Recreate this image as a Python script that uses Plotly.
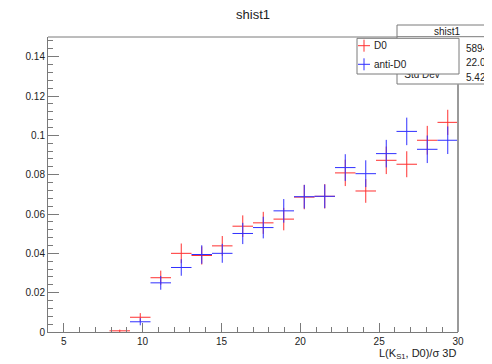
import plotly.graph_objects as go

# ---- data ----
bin_centers = [8.55, 9.85, 11.15, 12.45, 13.75, 15.05, 16.35, 17.65, 18.95, 20.25,
               21.55, 22.85, 24.15, 25.45, 26.75, 28.05, 29.35]
half_bin_width = 0.65

d0_values = [0.0006, 0.0075, 0.0276, 0.0400, 0.0389, 0.0438, 0.0538, 0.0555, 0.0574, 0.0686,
             0.0690, 0.0809, 0.0717, 0.0873, 0.0853, 0.0975, 0.1066]
d0_errors = [0.0006, 0.0021, 0.0036, 0.0050, 0.0046, 0.0050, 0.0055, 0.0056, 0.0057, 0.0062,
             0.0062, 0.0067, 0.0060, 0.0070, 0.0066, 0.0073, 0.0064]

anti_values = [None, 0.0052, 0.0250, 0.0328, 0.0394, 0.0400, 0.0501, 0.0531, 0.0616, 0.0688,
               0.0690, 0.0836, 0.0805, 0.0907, 0.1020, 0.0929, 0.0975]
anti_errors = [0.0, 0.0018, 0.0035, 0.0042, 0.0047, 0.0048, 0.0054, 0.0055, 0.0060, 0.0060,
               0.0060, 0.0068, 0.0068, 0.0070, 0.0070, 0.0070, 0.0070]

x_tick_vals = [5, 10, 15, 20, 25, 30]
y_tick_vals = [0, 0.02, 0.04, 0.06, 0.08, 0.1, 0.12, 0.14]
y_tick_text = ["0", "0.02", "0.04", "0.06", "0.08", "0.1", "0.12", "0.14"]

stats_title = "shist1"
stats_labels = ["Entries", "Mean", "Std Dev"]
stats_values = ["58941", "22.02", "5.424"]

FONT = "Liberation Sans, Arial, sans-serif"
TXT = "#222222"
AX = "#7a7a7a"

# the page body has an 8px margin, so the figure is laid out 8px up/left
OFF = 8


def hist_trace(vals, errs, color, name):
    return go.Scatter(
        x=bin_centers, y=vals, mode="markers", name=name,
        marker=dict(size=1, color=color, opacity=0),
        error_y=dict(type="data", array=errs, visible=True, color=color, thickness=1, width=0),
        error_x=dict(type="constant", value=half_bin_width, visible=True, color=color, thickness=1, width=0),
        showlegend=False, hoverinfo="skip",
    )


fig = go.Figure()
fig.add_trace(hist_trace(d0_values, d0_errors, "#ff3030", "D0"))
fig.add_trace(hist_trace(anti_values, anti_errors, "#3030ff", "anti-D0"))

# "Std Dev" label of the stats box (partly hidden behind the legend box)
fig.add_trace(go.Scatter(
    x=[27.72], y=[0.1305], mode="text", text=[stats_labels[2]],
    textfont=dict(family=FONT, size=10, color=TXT), cliponaxis=False,
    showlegend=False, hoverinfo="skip",
))

W, H = 492 - OFF, 364 - OFF
fig.update_layout(
    width=W, height=H,
    margin=dict(l=48 - OFF, r=492 - 458, t=37 - OFF, b=364 - 332, pad=0),
    paper_bgcolor="white", plot_bgcolor="white",
    font=dict(family=FONT, size=10, color=TXT),
    title=dict(text="shist1", x=0.5, xref="paper", y=1 - (14 - OFF) / H, yref="container",
               xanchor="center", yanchor="middle", font=dict(family=FONT, size=13, color=TXT)),
    showlegend=False,
)

fig.update_xaxes(
    range=[4, 30], showgrid=False, zeroline=False,
    showline=True, linecolor=AX, linewidth=1,
    ticks="inside", ticklen=9, tickcolor=AX, tickwidth=1,
    tickvals=x_tick_vals, tickfont=dict(family=FONT, size=10, color=TXT),
    minor=dict(dtick=1, tick0=0, ticks="inside", ticklen=5, tickcolor=AX, tickwidth=1, showgrid=False),
)
fig.update_yaxes(
    range=[0, 0.15], showgrid=False, zeroline=False,
    showline=True, linecolor=AX, linewidth=1,
    ticks="inside", ticklen=11, tickcolor=AX, tickwidth=1,
    tickvals=y_tick_vals, ticktext=y_tick_text, tickfont=dict(family=FONT, size=10, color=TXT),
    minor=dict(dtick=0.004, tick0=0, ticks="inside", ticklen=5, tickcolor=AX, tickwidth=1, showgrid=False),
)


def px_x(X):
    return (X - 48) / 410.0


def px_y(Y):
    return (332 - Y) / 295.0


shapes = []
# stats box (behind data layer)
shapes.append(dict(type="rect", xref="paper", yref="paper", layer="below",
                   x0=px_x(397), x1=px_x(520), y0=px_y(84), y1=px_y(25),
                   fillcolor="white", line=dict(color=AX, width=1)))
shapes.append(dict(type="line", xref="paper", yref="paper", layer="below",
                   x0=px_x(397), x1=px_x(520), y0=px_y(36.7), y1=px_y(36.7),
                   line=dict(color=AX, width=1)))
# frame top and right lines
shapes.append(dict(type="line", xref="paper", yref="paper", layer="above",
                   x0=0, x1=px_x(397), y0=1, y1=1, line=dict(color=AX, width=1)))
shapes.append(dict(type="line", xref="paper", yref="paper", layer="above",
                   x0=1, x1=1, y0=0, y1=px_y(84), line=dict(color="#9a9a9a", width=2)))
# legend box
shapes.append(dict(type="rect", xref="paper", yref="paper", layer="above",
                   x0=px_x(357), x1=px_x(459), y0=px_y(74), y1=px_y(38.3),
                   fillcolor="white", line=dict(color=AX, width=1)))
# legend crosses
for Yc, col in [(45.7, "#ff3030"), (64.3, "#3030ff")]:
    shapes.append(dict(type="line", xref="paper", yref="paper", layer="above",
                       x0=px_x(358), x1=px_x(370), y0=px_y(Yc), y1=px_y(Yc), line=dict(color=col, width=1)))
    shapes.append(dict(type="line", xref="paper", yref="paper", layer="above",
                       x0=px_x(364), x1=px_x(364), y0=px_y(Yc - 6), y1=px_y(Yc + 6), line=dict(color=col, width=1)))
fig.update_layout(shapes=shapes)

ann = []
ann.append(dict(text=stats_title, x=px_x(447), y=px_y(31.5), xref="paper", yref="paper",
                showarrow=False, xanchor="center", yanchor="middle", font=dict(size=10, color=TXT)))
for v, Y in zip(stats_values, [48.5, 62.5, 77]):
    ann.append(dict(text=v, x=px_x(464), y=px_y(Y), xref="paper", yref="paper",
                    showarrow=False, xanchor="left", yanchor="middle", font=dict(size=10, color=TXT)))
ann.append(dict(text="D0", x=px_x(372), y=px_y(45.7), xref="paper", yref="paper",
                showarrow=False, xanchor="left", yanchor="middle", font=dict(size=10, color=TXT)))
ann.append(dict(text="anti-D0", x=px_x(372), y=px_y(64.3), xref="paper", yref="paper",
                showarrow=False, xanchor="left", yanchor="middle", font=dict(size=10, color=TXT)))
ann.append(dict(text="L(K<sub>S1</sub>, D0)/σ 3D", x=1, y=px_y(354), xref="paper", yref="paper",
                showarrow=False, xanchor="right", yanchor="middle", font=dict(size=11, color=TXT)))
fig.update_layout(annotations=ann)

fig.write_html("out.html")
